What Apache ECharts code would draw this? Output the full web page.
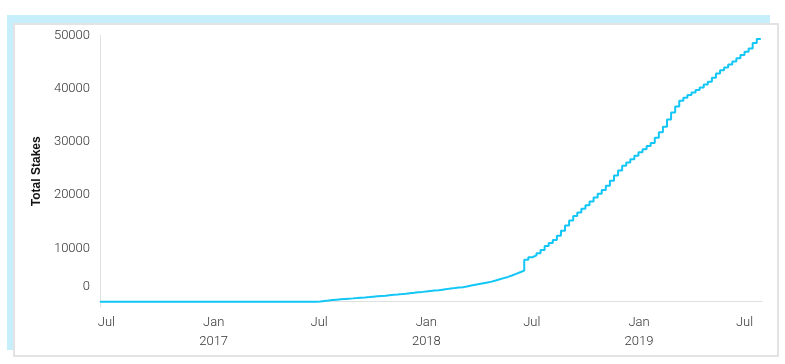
<!DOCTYPE html>
<html>
<head>
<meta charset="utf-8">
<script src="https://cdn.jsdelivr.net/npm/echarts@6/dist/echarts.min.js"></script>
<style>
  html, body { margin: 0; padding: 0; background: #ffffff; }
  #wrap { position: relative; width: 785px; height: 364px; overflow: hidden; }
  #back { position: absolute; left: 7px; top: 15px; width: 763px; height: 335px; background: #c6effb; }
  #card { position: absolute; left: 13px; top: 23px; width: 766px; height: 334px; box-sizing: border-box; background: #ffffff; border: 2px solid #e3e3e3; }
  #chart { position: absolute; left: 0; top: 0; width: 785px; height: 364px; }
</style>
</head>
<body>
<div id="wrap">
  <div id="back"></div>
  <div id="card"></div>
  <div id="chart"></div>
</div>
<script>
// ---- data ----
const seriesName = 'Total Stakes';
const seriesStart = '2016-06-20';          // first point, value 0
const firstWeek = '2017-06-26';            // first weekly sample
const totalStakes = [
  0, 50, 130, 210, 300, 375, 450, 510, 570, 620,
  680, 750, 800, 860, 930, 1000, 1070, 1130, 1210, 1290,
  1350, 1420, 1500, 1590, 1670, 1760, 1840, 1930, 2010, 2080,
  2140, 2250, 2360, 2480, 2550, 2650, 2700, 2870, 3020, 3170,
  3320, 3470, 3620, 3770, 3980, 4200, 4430, 4650, 4920, 5220,
  5520, 5820, 7880, 8350, 8690, 9080, 9720, 10450, 11000, 11590,
  12380, 13340, 14300, 15270, 16100, 16770, 17450, 18120, 18820, 19550,
  20260, 20990, 21760, 22720, 23680, 24650, 25510, 26150, 26770, 27410,
  28050, 28630, 29230, 29810, 30800, 31840, 32850, 34200, 35530, 36660,
  37760, 38310, 38800, 39280, 39750, 40240, 40780, 41310, 42080, 42850,
  43460, 43990, 44540, 45100, 45720, 46340, 46940, 47540, 48590, 49340
];
const xTickDates = ['2016-07-01', '2017-01-01', '2017-07-01', '2018-01-01', '2018-07-01', '2019-01-01', '2019-07-01'];
const yTickValues = [0, 10000, 20000, 30000, 40000, 50000];
const xMin = '2016-06-20';
const xMax = '2019-07-31';
const yMin = -1000;
const yMax = 50000;
const monthNames = ['Jan','Feb','Mar','Apr','May','Jun','Jul','Aug','Sep','Oct','Nov','Dec'];

function ts(s) { const p = s.split('-').map(Number); return Date.UTC(p[0], p[1] - 1, p[2]); }
const DAY = 86400000;

const points = [[ts(seriesStart), 0]];
const w0 = ts(firstWeek);
totalStakes.forEach((v, i) => points.push([w0 + i * 7 * DAY, v]));

const chart = echarts.init(document.getElementById('chart'), null, { renderer: 'canvas' });
chart.setOption({
  animation: false,
  backgroundColor: 'transparent',
  grid: { left: 100, right: 23, top: 35.5, bottom: 57, containLabel: false, outerBoundsMode: 'none' },
  xAxis: {
    type: 'value',
    min: ts(xMin),
    max: ts(xMax),
    splitLine: { show: false },
    axisTick: { show: false },
    axisLine: { show: true, lineStyle: { color: '#e0e0e0', width: 1 } },
    axisLabel: {
      customValues: xTickDates.map(ts),
      formatter: function (v) {
        const d = new Date(v);
        const m = d.getUTCMonth();
        return m === 0 ? monthNames[m] + '\n' + d.getUTCFullYear() : monthNames[m];
      },
      color: '#333',
      fontFamily: 'Roboto',
      fontWeight: 300,
      fontSize: 13,
      lineHeight: 19,
      margin: 6,
      showMinLabel: true,
      showMaxLabel: true,
      hideOverlap: false
    }
  },
  yAxis: {
    type: 'value',
    min: yMin,
    max: yMax,
    name: seriesName,
    nameLocation: 'middle',
    nameGap: 56,
    nameTextStyle: { fontFamily: 'Liberation Sans', fontWeight: 'bold', fontSize: 12, color: '#111' },
    splitLine: { show: false },
    axisTick: { show: false },
    axisLine: { show: true, lineStyle: { color: '#e0e0e0', width: 1 } },
    axisLabel: {
      customValues: yTickValues,
      formatter: function (v) { return v === 0 ? '{z|0}' : String(v); },
      color: '#333',
      fontFamily: 'Roboto',
      fontWeight: 300,
      fontSize: 13,
      margin: 10,
      rich: { z: { padding: [0, 0, 30, 0], fontFamily: 'Roboto', fontWeight: 300, fontSize: 13, color: '#333' } }
    }
  },
  series: [{
    name: seriesName,
    type: 'line',
    step: 'start',
    data: points,
    showSymbol: false,
    symbol: 'none',
    lineStyle: { color: '#12c6f6', width: 2 },
    itemStyle: { color: '#12c6f6' }
  }]
});
</script>
</body>
</html>
